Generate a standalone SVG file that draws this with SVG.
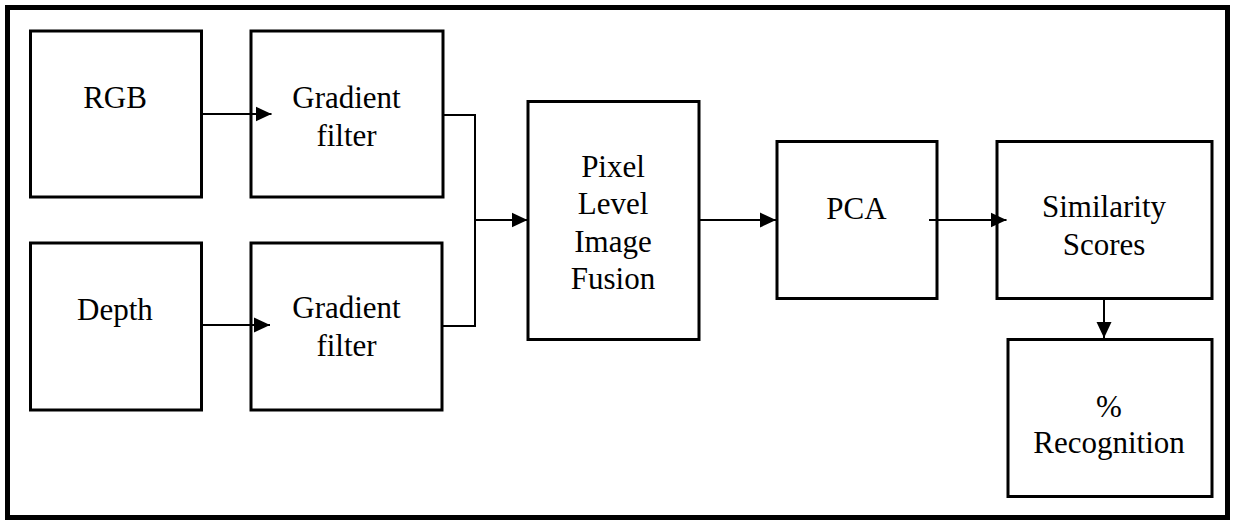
<svg xmlns="http://www.w3.org/2000/svg" width="1233" height="521" viewBox="0 0 1233 521">
<style>
.box{fill:#fff;stroke:#000;stroke-width:3}
.frame{fill:#fff;stroke:#000;stroke-width:5}
.conn{fill:none;stroke:#000;stroke-width:2}
.lbl{font-family:"Liberation Serif","Times New Roman",serif;font-size:31px;fill:#000;text-anchor:middle}
</style>
<defs>
<marker id="arr" markerUnits="userSpaceOnUse" markerWidth="16" markerHeight="16" viewBox="0 0 16 16" refX="16" refY="8" orient="auto">
<path d="M0,0.5 L16,8 L0,15.5 z" fill="#000"/>
</marker>
</defs>
<rect class="frame" x="7.5" y="7.5" width="1220" height="510"/>
<g id="rgb"><rect class="box" x="30.5" y="31" width="171" height="166"/><text class="lbl" x="115" y="108">RGB</text></g>
<g id="grad1"><rect class="box" x="251" y="31" width="192" height="166"/><text class="lbl" x="346.5" y="108">Gradient</text><text class="lbl" x="346.5" y="146">filter</text></g>
<g id="depth"><rect class="box" x="30.5" y="243" width="171" height="167"/><text class="lbl" x="115" y="320">Depth</text></g>
<g id="grad2"><rect class="box" x="251" y="243" width="191" height="167"/><text class="lbl" x="346.5" y="318">Gradient</text><text class="lbl" x="346.5" y="356">filter</text></g>
<g id="fusion"><rect class="box" x="528" y="101.5" width="171" height="238"/><text class="lbl" x="613" y="177">Pixel</text><text class="lbl" x="613" y="214">Level</text><text class="lbl" x="613" y="252">Image</text><text class="lbl" x="613" y="289">Fusion</text></g>
<g id="pca"><rect class="box" x="777" y="141.5" width="160" height="157"/><text class="lbl" x="856.5" y="219">PCA</text></g>
<g id="similarity"><rect class="box" x="997" y="141.5" width="215" height="157"/><text class="lbl" x="1104" y="217">Similarity</text><text class="lbl" x="1104" y="255">Scores</text></g>
<g id="recognition"><rect class="box" x="1008" y="339.5" width="204" height="157"/><text class="lbl" x="1109" y="417">%</text><text class="lbl" x="1109" y="453">Recognition</text></g>
<g id="connectors">
<path class="conn" d="M201,114 H271.5" marker-end="url(#arr)"/>
<path class="conn" d="M201,325 H270" marker-end="url(#arr)"/>
<path class="conn" d="M443,115 H475 V326 H442"/>
<path class="conn" d="M475,220 H527.5" marker-end="url(#arr)"/>
<path class="conn" d="M699,220 H776" marker-end="url(#arr)"/>
<path class="conn" d="M929,220 H1006.5" marker-end="url(#arr)"/>
<path class="conn" d="M1104,300 V338" marker-end="url(#arr)"/>
</g>
</svg>
